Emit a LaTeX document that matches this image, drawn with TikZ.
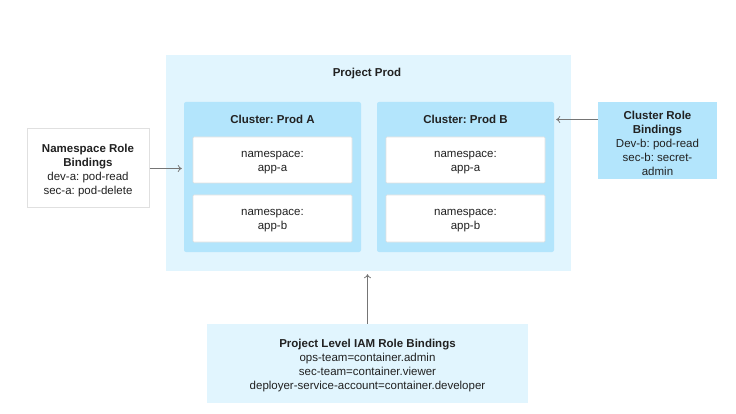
\documentclass[tikz,border=0pt]{standalone}
\usepackage{fontspec}
\setmainfont{Liberation Sans}
\usetikzlibrary{arrows.meta}
\definecolor{lightblue}{HTML}{E1F5FE}
\definecolor{midblue}{HTML}{B3E5FC}
\definecolor{txt}{HTML}{212121}
\definecolor{arrgray}{HTML}{757575}
\definecolor{bordergray}{HTML}{E0E0E0}
\begin{document}
\frenchspacing
\begin{tikzpicture}[x=1pt,y=-1pt,
  every node/.style={font=\fontsize{11.5}{14}\selectfont, text=txt, align=center, inner sep=0pt},
  every label/.style={font=\fontsize{11.5}{14}\selectfont, text=txt, align=center, inner sep=0pt, yshift=-2.5pt},
  projbox/.style={fill=lightblue, draw=none},
  clusterbox/.style={fill=midblue, draw=none, rounded corners=2pt},
  nsbox/.style={fill=white, draw=bordergray, line width=0.6pt, rounded corners=1pt},
  nrbbox/.style={fill=white, draw=bordergray, line width=1pt},
  titletext/.style={font=\fontsize{11.5}{14}\selectfont\bfseries},
  arr/.style={draw=arrgray, line width=0.8pt, -{To[length=4pt,width=7pt]}}
]
\useasboundingbox (0,0) rectangle (736,414);
% project
\node[projbox, minimum width=405pt, minimum height=216pt] (proj) at (368.5,163) {};
\node[titletext] (projt) at (367,73.5) {Project Prod};
% clusters
\node[clusterbox, minimum width=177pt, minimum height=150pt] (clA) at (272.5,177) {};
\node[titletext] (clAt) at (272.5,119.5) {Cluster: Prod A};
\node[clusterbox, minimum width=177pt, minimum height=150pt] (clB) at (465.5,177) {};
\node[titletext] (clBt) at (465.5,119.5) {Cluster: Prod B};
% namespaces
\node[nsbox, minimum width=159pt, minimum height=46pt, label=center:{namespace:\\app-a}] (nsAa) at (272.5,160) {};
\node[nsbox, minimum width=159pt, minimum height=47pt, label=center:{namespace:\\app-b}] (nsAb) at (272.5,218.5) {};
\node[nsbox, minimum width=159pt, minimum height=46pt, label=center:{namespace:\\app-a}] (nsBa) at (465.5,160) {};
\node[nsbox, minimum width=159pt, minimum height=47pt, label=center:{namespace:\\app-b}] (nsBb) at (465.5,218.5) {};
% namespace role bindings
\node[nrbbox, minimum width=122pt, minimum height=79pt,
  label=center:{\textbf{Namespace Role}\\\textbf{Bindings}\\dev-a: pod-read\\sec-a: pod-delete}] (nrb) at (88,168.5) {};
% cluster role bindings
\node[fill=midblue, minimum width=119pt, minimum height=77pt,
  label=center:{\textbf{Cluster Role}\\\textbf{Bindings}\\Dev-b: pod-read\\sec-b: secret-\\admin}] (crb) at (657.5,140.5) {};
% IAM
\node[fill=lightblue, minimum width=321pt, minimum height=79pt,
  label=center:{\textbf{Project Level IAM Role Bindings}\\ops-team=container.admin\\sec-team=container.viewer\\deployer-service-account=container.developer}] (iam) at (367.5,363.5) {};
% arrows
\draw[arr, shorten >=2pt] (nrb.east) -- (nrb.east -| clA.west);
\draw[arr, shorten >=2pt] (crb.west |- clBt) -- (clBt -| clB.east);
\draw[arr, shorten >=3pt] (iam.north) -- (iam.north |- proj.south);
\end{tikzpicture}
\end{document}
